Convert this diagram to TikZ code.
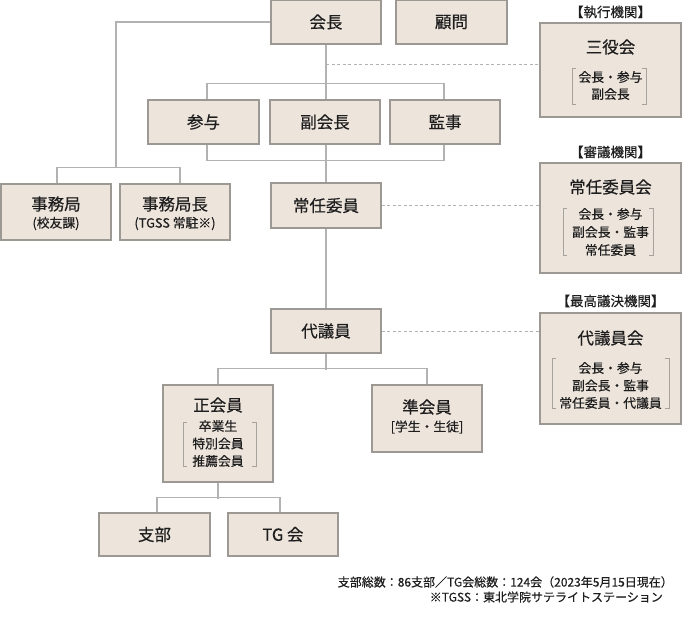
\documentclass[tikz,border=0pt]{standalone}
\usepackage{fontspec}
\setmainfont{Noto Sans CJK JP}[FakeBold=0.45]
\usetikzlibrary{backgrounds}
\definecolor{boxfill}{HTML}{EDE5DC}
\definecolor{boxline}{HTML}{9C9894}
\definecolor{connc}{HTML}{B2B2B2}
\definecolor{brkc}{HTML}{A6A29E}
\definecolor{txtc}{HTML}{1E1E1E}
\tikzset{
  orgbox/.style={draw=boxline, fill=boxfill, line width=1.1pt, inner sep=0pt, text=txtc,
    font=\fontsize{16.5}{18}\selectfont},
  conn/.style={draw=connc, line width=1.2pt},
  dashconn/.style={draw=connc, line width=0.9pt, dash pattern=on 3pt off 2.5pt},
  ttl/.style={inner sep=0pt, text=txtc, font=\fontsize{16.5}{18}\selectfont},
  subt/.style={inner sep=0pt, text=txtc, font=\fontsize{12.8}{14}\selectfont},
  head/.style={inner sep=0pt, text=txtc, font=\fontsize{13.5}{15}\selectfont},
  note/.style={inner sep=0pt, text=txtc, font=\fontsize{12}{14}\selectfont},
  brk/.style={draw=brkc, line width=0.9pt},
}
\begin{document}
\begin{tikzpicture}[x=1pt,y=-1pt]
\useasboundingbox (0,0) rectangle (682,619);

% boxes
\node[orgbox, minimum width=110pt, minimum height=44pt] (kaicho) at (326,22) {会長};
\node[orgbox, minimum width=111pt, minimum height=44pt] (komon) at (451.5,22) {顧問};
\node[orgbox, minimum width=111pt, minimum height=44pt] (sanyo) at (203.5,122) {参与};
\node[orgbox, minimum width=110pt, minimum height=44pt] (fuku) at (325,122) {副会長};
\node[orgbox, minimum width=110pt, minimum height=44pt] (kanji) at (445,122) {監事};
\node[orgbox, minimum width=110pt, minimum height=56pt] (jimu) at (56,212) {};
\node[orgbox, minimum width=110pt, minimum height=56pt] (jimucho) at (175,212) {};
\node[orgbox, minimum width=110pt, minimum height=45pt] (jonin) at (326,205.5) {常任委員};
\node[orgbox, minimum width=110pt, minimum height=44pt] (daigiin) at (326,331) {代議員};
\node[orgbox, minimum width=110pt, minimum height=97pt] (sei) at (218,433.5) {};
\node[orgbox, minimum width=110pt, minimum height=67pt] (jun) at (427,418.5) {};
\node[orgbox, minimum width=111pt, minimum height=43pt] (shibu) at (154.5,534.5) {支部};
\node[orgbox, minimum width=110pt, minimum height=43pt] (tgkai) at (283,534.5) {TG 会};
\node[orgbox, minimum width=141pt, minimum height=94pt] (sanyaku) at (610.5,70) {};
\node[orgbox, minimum width=141pt, minimum height=110pt] (joninkai) at (610.5,218) {};
\node[orgbox, minimum width=141pt, minimum height=111pt] (daigiinkai) at (610.5,368.5) {};

% connectors
\begin{scope}[on background layer]
  \coordinate (jb) at (116,168);
  \draw[conn] (kaicho.west) -| (jb);
  \draw[conn] ([xshift=1pt]jimu.north) -- ++(0,-16) -| ([xshift=5pt]jimucho.north);
  \draw[conn] (kaicho.south) -- (jonin.north);
  \draw[conn] ([xshift=3.5pt]sanyo.north) -- ++(0,-16) -| ([xshift=-1pt]kanji.north);
  \draw[conn] ([xshift=3.5pt]sanyo.south) -- ++(0,16) -| ([xshift=-1pt]kanji.south);
  \draw[conn] (jonin.south) -- (daigiin.north);
  \draw[conn] (daigiin.south) -- ++(0,16);
  \draw[conn] (sei.north) -- ++(0,-16) -| (jun.north);
  \draw[conn] (sei.south) -- ++(0,16);
  \draw[conn] ([xshift=2.5pt]shibu.north) -- ++(0,-15) -| ([xshift=-3pt]tgkai.north);
  \coordinate (d1) at (326,64);
  \draw[dashconn] (d1) -- (d1 -| sanyaku.west);
  \draw[dashconn] (jonin.east) -- (jonin.east -| joninkai.west);
  \draw[dashconn] (daigiin.east) -- (daigiin.east -| daigiinkai.west);
\end{scope}

% texts in multi-line boxes
\node[ttl] (jimut) at (56,204) {事務局};
\node[subt] (jimus) at (56,223.5) {(校友課)};
\node[ttl] (jimucht) at (175,204) {事務局長};
\node[subt] (jimuchs) at (175,223.5) {(TGSS 常駐※)};

\node[ttl] (seit) at (218,405) {正会員};
\node[subt] (seis1) at (218,426) {卒業生};
\node[subt] (seis2) at (218,443.5) {特別会員};
\node[subt] (seis3) at (218,461) {推薦会員};
\draw[brk] (187,422) -- (183,422) -- (183,466) -- (187,466);
\draw[brk] (252,422) -- (256,422) -- (256,466) -- (252,466);

\node[ttl] (junt) at (427,407) {準会員};
\node[subt] (juns) at (427,427) {[学生・生徒]};

\node[head] (h1) at (610.5,12) {【執行機関】};
\node[ttl] (sanyakut) at (610.5,47) {三役会};
\node[subt] (sanyakus1) at (610.5,77) {会長・参与};
\node[subt] (sanyakus2) at (610.5,94) {副会長};
\draw[brk] (576,68) -- (572,68) -- (572,104) -- (576,104);
\draw[brk] (642,68) -- (646,68) -- (646,104) -- (642,104);

\node[head] (h2) at (610.5,152) {【審議機関】};
\node[ttl] (joninkait) at (610.5,187) {常任委員会};
\node[subt] (joninkais1) at (610.5,214) {会長・参与};
\node[subt] (joninkais2) at (610.5,232) {副会長・監事};
\node[subt] (joninkais3) at (610.5,250) {常任委員};
\draw[brk] (567,208) -- (563,208) -- (563,255) -- (567,255);
\draw[brk] (649,208) -- (653,208) -- (653,255) -- (649,255);

\node[head] (h3) at (610.5,301) {【最高議決機関】};
\node[ttl] (daigiinkait) at (610.5,338) {代議員会};
\node[subt] (daigiinkais1) at (610.5,368) {会長・参与};
\node[subt] (daigiinkais2) at (610.5,385.5) {副会長・監事};
\node[subt] (daigiinkais3) at (610.5,403) {常任委員・代議員};
\draw[brk] (556,358) -- (552,358) -- (552,408) -- (556,408);
\draw[brk] (665,358) -- (669,358) -- (669,408) -- (665,408);

% notes
\node[note, anchor=east] (n1) at (673,582) {支部総数：86支部／TG会総数：124会（2023年5月15日現在）};
\node[note, anchor=east] (n2) at (663,597) {※TGSS：東北学院サテライトステーション};
\end{tikzpicture}
\end{document}
